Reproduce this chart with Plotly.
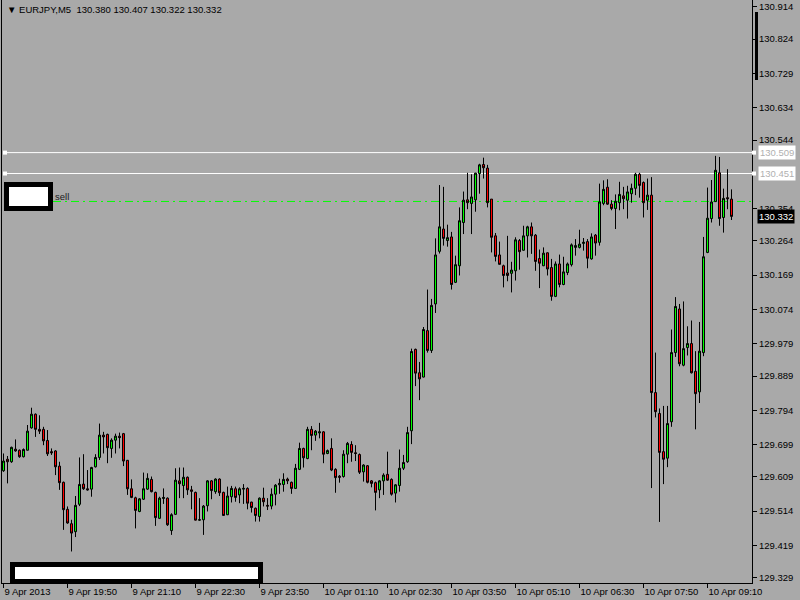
import plotly.graph_objects as go
import pandas as pd

symbol_title = "\u25bc EURJPY,M5  130.380 130.407 130.322 130.332"
start_time = "2013-04-09 18:30"

opens = [129.626,129.658,129.651,129.686,129.683,129.665,129.683,129.745,129.783,129.741,
         129.741,129.710,129.679,129.681,129.639,129.594,129.519,129.479,129.457,129.533,
         129.589,129.576,129.575,129.637,129.663,129.725,129.727,129.688,129.711,129.722,
         129.729,129.655,129.576,129.551,129.513,129.547,129.575,129.602,129.566,129.494,
         129.549,129.550,129.460,129.505,129.598,129.585,129.608,129.573,129.566,129.489,
         129.490,129.529,129.598,129.568,129.603,129.566,129.504,129.554,129.576,129.559,
         129.575,129.577,129.539,129.522,129.499,129.550,129.530,129.528,129.561,129.587,
         129.588,129.603,129.594,129.577,129.630,129.688,129.660,129.741,129.725,129.731,
         129.734,129.674,129.688,129.630,129.611,129.610,129.672,129.699,129.676,129.671,
         129.623,129.640,129.598,129.593,129.573,129.598,129.616,129.602,129.564,129.585,
         129.633,129.651,129.737,129.963,129.898,129.886,130.015,129.960,130.089,130.235,
         130.297,130.265,130.275,130.149,130.195,130.315,130.378,130.368,130.378,130.451,
         130.476,130.466,130.380,130.278,130.225,130.195,130.175,130.174,130.181,130.265,
         130.238,130.278,130.303,130.280,130.215,130.195,130.231,130.190,130.110,130.200,
         130.143,130.176,130.198,130.246,130.246,130.257,130.262,130.214,130.280,130.260,
         130.368,130.413,130.366,130.354,130.370,130.389,130.377,130.395,130.410,130.449,
         130.426,130.377,130.391,129.843,129.785,129.679,129.661,129.762,129.954,130.075,
         129.919,129.968,129.979,129.902,129.845,129.954,130.232,130.326,130.373,130.453,
         130.329,130.384,130.380]
highs = [129.674,129.667,129.693,129.713,129.685,129.688,129.753,129.801,129.785,129.780,
         129.748,129.739,129.688,129.683,129.651,129.596,129.527,129.490,129.556,129.663,
         129.672,129.628,129.637,129.672,129.757,129.734,129.729,129.716,129.729,129.732,
         129.731,129.656,129.602,129.554,129.550,129.621,129.619,129.610,129.568,129.554,
         129.577,129.552,129.508,129.633,129.635,129.635,129.610,129.584,129.568,129.550,
         129.531,129.600,129.600,129.605,129.605,129.568,129.582,129.584,129.582,129.580,
         129.589,129.580,129.540,129.524,129.552,129.579,129.550,129.577,129.589,129.604,
         129.619,129.607,129.596,129.645,129.704,129.690,129.748,129.750,129.739,129.759,
         129.736,129.685,129.716,129.633,129.614,129.683,129.706,129.708,129.697,129.674,
         129.644,129.642,129.600,129.596,129.600,129.619,129.679,129.605,129.589,129.685,
         129.670,129.748,129.965,129.965,129.928,130.025,130.129,130.103,130.271,130.419,
         130.414,130.309,130.289,130.223,130.357,130.401,130.453,130.449,130.453,130.478,
         130.495,130.475,130.380,130.286,130.262,130.198,130.278,130.206,130.274,130.269,
         130.306,130.306,130.315,130.283,130.240,130.246,130.232,130.214,130.207,130.226,
         130.220,130.204,130.257,130.269,130.295,130.272,130.269,130.285,130.283,130.423,
         130.432,130.435,130.377,130.393,130.428,130.414,130.417,130.423,130.453,130.453,
         130.429,130.437,130.441,129.954,129.799,129.806,129.806,130.018,130.108,130.089,
         130.096,130.027,130.043,129.958,130.039,130.275,130.412,130.433,130.500,130.497,
         130.409,130.463,130.407]
lows = [129.623,129.591,129.648,129.679,129.662,129.663,129.682,129.743,129.720,129.728,
        129.697,129.667,129.670,129.614,129.573,129.462,129.479,129.402,129.442,129.528,
        129.573,129.571,129.554,129.635,129.656,129.674,129.647,129.662,129.674,129.688,
        129.639,129.559,129.550,129.466,129.511,129.545,129.573,129.566,129.473,129.492,
        129.534,129.473,129.448,129.504,129.550,129.550,129.559,129.519,129.488,129.487,
        129.448,129.513,129.547,129.562,129.556,129.501,129.503,129.538,129.540,129.536,
        129.534,129.519,129.510,129.485,129.485,129.527,129.517,129.519,129.530,129.562,
        129.568,129.589,129.562,129.576,129.628,129.635,129.658,129.683,129.709,129.716,
        129.647,129.672,129.625,129.565,129.593,129.607,129.647,129.651,129.653,129.617,
        129.596,129.591,129.580,129.516,129.550,129.559,129.598,129.557,129.538,129.568,
        129.628,129.648,129.700,129.861,129.822,129.885,129.954,129.953,130.064,130.229,
        130.251,130.248,130.129,130.147,130.168,130.283,130.352,130.283,130.345,130.395,
        130.437,130.357,130.232,130.207,130.198,130.135,130.152,130.121,130.154,130.184,
        130.237,130.218,130.228,130.181,130.133,130.194,130.168,130.098,130.108,130.135,
        130.141,130.169,130.193,130.223,130.243,130.237,130.188,130.212,130.223,130.251,
        130.363,130.364,130.349,130.297,130.349,130.352,130.326,130.370,130.391,130.384,
        130.329,130.350,129.578,129.774,129.484,129.589,129.636,129.748,129.942,129.916,
        129.916,129.946,129.896,129.741,129.814,129.944,130.230,130.315,130.372,130.306,
        130.287,130.352,130.322]
closes = [129.653,129.651,129.691,129.681,129.665,129.685,129.736,129.783,129.741,129.736,
          129.709,129.673,129.676,129.637,129.593,129.518,129.481,129.453,129.530,129.588,
          129.576,129.573,129.635,129.663,129.725,129.720,129.690,129.711,129.722,129.718,
          129.653,129.576,129.552,129.516,129.548,129.576,129.605,129.568,129.496,129.550,
          129.552,129.476,129.504,129.600,129.590,129.608,129.573,129.569,129.489,129.490,
          129.528,129.598,129.571,129.603,129.565,129.502,129.556,129.577,129.552,129.576,
          129.577,129.536,129.524,129.502,129.550,129.540,129.528,129.561,129.586,129.591,
          129.602,129.598,129.577,129.633,129.688,129.662,129.741,129.724,129.736,129.734,
          129.672,129.682,129.628,129.607,129.608,129.672,129.702,129.677,129.674,129.622,
          129.642,129.594,129.591,129.566,129.598,129.614,129.600,129.561,129.587,129.633,
          129.649,129.732,129.957,129.897,129.881,130.018,129.960,130.085,130.225,130.303,
          130.271,130.273,130.143,130.198,130.320,130.377,130.370,130.386,130.452,130.475,
          130.467,130.370,130.274,130.221,130.199,130.168,130.168,130.183,130.267,130.234,
          130.278,130.303,130.278,130.207,130.202,130.230,130.186,130.110,130.200,130.143,
          130.178,130.200,130.253,130.251,130.255,130.260,130.216,130.275,130.258,130.372,
          130.407,130.366,130.354,130.374,130.393,130.381,130.400,130.410,130.449,130.418,
          130.370,130.391,129.843,129.790,129.677,129.658,129.757,129.954,130.082,129.923,
          129.965,129.979,129.898,129.840,129.958,130.220,130.327,130.372,130.460,130.326,
          130.382,130.381,130.332]

x_tick_bars = [0, 16, 32, 48, 64, 80, 96, 112, 128, 144, 160, 176]
x_tick_labels = ["9 Apr 2013", "9 Apr 19:50", "9 Apr 21:10", "9 Apr 22:30", "9 Apr 23:50",
                 "10 Apr 01:10", "10 Apr 02:30", "10 Apr 03:50", "10 Apr 05:10",
                 "10 Apr 06:30", "10 Apr 07:50", "10 Apr 09:10"]
y_tick_vals = [130.914, 130.824, 130.729, 130.634, 130.544, 130.354, 130.264, 130.169,
               130.074, 129.979, 129.889, 129.794, 129.699, 129.609, 129.514, 129.419, 129.329]
y_tick_labels = [f"{v:.3f}" for v in y_tick_vals]

level_lines = [130.509, 130.451]
sell_level = 130.3735
current_price = 130.332

times = pd.date_range(start_time, periods=len(opens), freq="5min")
step = pd.Timedelta(minutes=5)

BG = "#A9A9A9"
FONT = "Liberation Sans"
W, H = 800, 600
ML, MR, MT, MB = 2, 48, 0, 17
PW, PH = W - ML - MR, H - MT - MB


def px(xp):
    return (xp - ML) / PW


def py(yp):
    return (MT + PH - yp) / PH


fig = go.Figure()
fig.add_trace(go.Candlestick(
    x=times, open=opens, high=highs, low=lows, close=closes,
    increasing=dict(fillcolor="#00FF00", line=dict(color="black", width=1)),
    decreasing=dict(fillcolor="#FF0000", line=dict(color="black", width=1)),
    whiskerwidth=0, hoverinfo="skip", showlegend=False,
))

shapes = []
for lv in level_lines:
    shapes.append(dict(type="line", xref="paper", yref="y", x0=px(5), x1=1, y0=lv, y1=lv,
                       line=dict(color="white", width=1), layer="below"))
    for cx in (5, 754):
        shapes.append(dict(type="rect", xref="paper", yref="y", xsizemode="pixel", ysizemode="pixel",
                           xanchor=px(cx), yanchor=lv, x0=-2, x1=2, y0=-2, y1=2,
                           fillcolor="white", line=dict(width=0)))
shapes.append(dict(type="line", xref="paper", yref="y", x0=px(53), x1=1, y0=sell_level, y1=sell_level,
                   line=dict(color="#00FF00", width=1, dash="8px,4px,2px,4px"), layer="below"))
# label boxes
shapes.append(dict(type="rect", xref="paper", yref="paper", x0=px(6.5), x1=px(50.5), y0=py(208.5), y1=py(184.5),
                   fillcolor="white", line=dict(color="black", width=5)))
shapes.append(dict(type="rect", xref="paper", yref="paper", x0=px(12.5), x1=px(260.5), y0=py(581.5), y1=py(564.5),
                   fillcolor="white", line=dict(color="black", width=5)))
# scroll marker at top right
shapes.append(dict(type="rect", xref="paper", yref="paper", x0=px(755), x1=px(758), y0=py(80), y1=py(12),
                   fillcolor="black", line=dict(width=0)))

annotations = [
    dict(xref="paper", yref="paper", x=px(5), y=py(10), xanchor="left", yanchor="middle",
         text=symbol_title, showarrow=False, font=dict(family=FONT, size=9.5, color="black")),
    dict(xref="paper", yref="paper", x=px(53), y=py(196), xanchor="left", yanchor="middle",
         text="sell", showarrow=False, font=dict(family=FONT, size=9.5, color="#202020")),
    dict(xref="paper", yref="y", x=1, y=current_price, xanchor="left", yanchor="middle", xshift=5,
         text="130.332", showarrow=False, bgcolor="black", borderpad=1,
         font=dict(family=FONT, size=9.5, color="white")),
]
for lv in level_lines:
    annotations.append(dict(xref="paper", yref="y", x=1, y=lv, xanchor="left", yanchor="middle", xshift=6,
                            text=f"{lv:.3f}", showarrow=False, bgcolor="white", borderpad=1,
                            font=dict(family=FONT, size=9.5, color="#B0B0B0")))

fig.update_layout(
    template="none",
    width=W, height=H,
    margin=dict(l=ML, r=MR, t=MT, b=MB, pad=0),
    paper_bgcolor=BG, plot_bgcolor=BG,
    boxgap=0.5, boxgroupgap=0,
    showlegend=False,
    shapes=shapes,
    annotations=annotations,
    xaxis=dict(
        type="date",
        range=[times[0] - 0.375 * step, times[0] + 187.125 * step],
        rangeslider=dict(visible=False),
        tickvals=[times[i] for i in x_tick_bars], ticktext=x_tick_labels,
        ticks="outside", ticklen=4, tickcolor="black", tickwidth=1,
        ticklabelposition="outside right",
        tickfont=dict(family=FONT, size=9.5, color="black"),
        showgrid=False, zeroline=False, showline=True, linecolor="black", linewidth=1,
        mirror=True, automargin=False, fixedrange=True,
    ),
    yaxis=dict(
        side="right",
        range=[129.3145, 130.9326],
        tickvals=y_tick_vals, ticktext=y_tick_labels,
        ticks="outside", ticklen=4, tickcolor="black", tickwidth=1,
        tickfont=dict(family=FONT, size=9.5, color="black"),
        showgrid=False, zeroline=False, showline=True, linecolor="black", linewidth=1,
        mirror=True, automargin=False, fixedrange=True,
    ),
)

fig.write_html("out.html", config={"displayModeBar": False, "staticPlot": True},
               post_script="document.body.style.margin='0';document.body.style.overflow='hidden';")
